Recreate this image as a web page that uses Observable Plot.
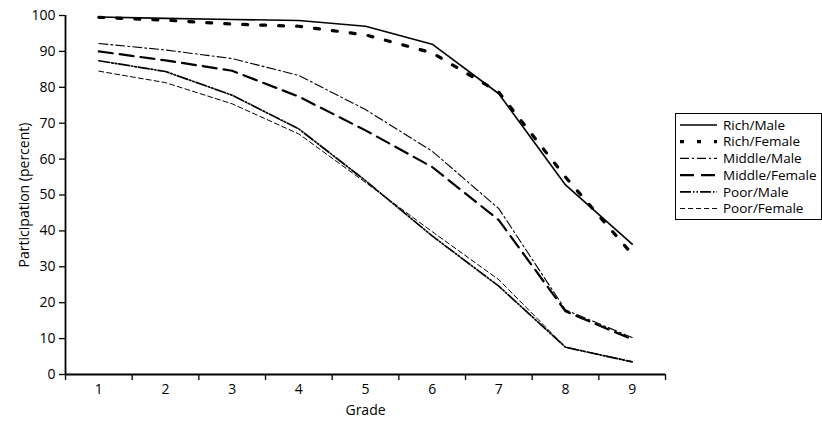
<!DOCTYPE html>
<html><head><meta charset="utf-8">
<script src="https://cdn.jsdelivr.net/npm/d3@7"></script>
<script src="https://cdn.jsdelivr.net/npm/@observablehq/plot@0.6"></script>
<style>body{margin:0;background:#fff}</style>
</head><body><div id="chart"></div>
<script>
const grades = [1, 2, 3, 4, 5, 6, 7, 8, 9];
const seriesNames = ["Rich/Male", "Rich/Female", "Middle/Male", "Middle/Female", "Poor/Male", "Poor/Female"];
const richMale     = [99.6, 99.2, 98.9, 98.6, 97.0, 92.0, 78.2, 52.8, 36.3];
const richFemale   = [99.5, 98.7, 97.6, 97.0, 94.6, 89.6, 78.6, 55.0, 33.5];
const middleMale   = [92.2, 90.4, 88.0, 83.3, 73.8, 62.2, 46.2, 18.0, 10.3];
const middleFemale = [90.0, 87.5, 84.6, 77.4, 68.0, 57.8, 43.0, 17.6, 9.8];
const poorMale     = [87.4, 84.4, 77.8, 68.4, 54.0, 38.6, 24.6, 7.6, 3.5];
const poorFemale   = [84.5, 81.3, 75.4, 67.0, 53.5, 39.8, 26.4, 7.6, 3.6];
const yTicks = [0, 10, 20, 30, 40, 50, 60, 70, 80, 90, 100];

const values = [richMale, richFemale, middleMale, middleFemale, poorMale, poorFemale];
const styles = [
  {strokeWidth: 1.6, strokeDasharray: null},
  {strokeWidth: 3.2, strokeDasharray: "5 13"},
  {strokeWidth: 1.1, strokeDasharray: "9 3 2 3"},
  {strokeWidth: 2.2, strokeDasharray: "14 7"},
  {strokeWidth: 1.7, strokeDasharray: "11 2 1.5 2 1.5 2"},
  {strokeWidth: 1, strokeDasharray: "5 3"}
];
const data = seriesNames.map((s, i) => grades.map((g, j) => ({series: s, grade: g, value: values[i][j]})));

const font = "'Open Sans', sans-serif";
const lineMarks = data.map((d, i) => Plot.line(d, {x: "grade", y: "value", stroke: "black", strokeWidth: styles[i].strokeWidth, strokeDasharray: styles[i].strokeDasharray || undefined}));

const chart = Plot.plot({
  width: 822, height: 421,
  marginLeft: 65, marginRight: 157, marginTop: 15, marginBottom: 47,
  style: {fontFamily: font, fontSize: "14px", color: "black", background: "white"},
  x: {domain: [0.5, 9.5]},
  y: {domain: [0, 100]},
  marks: [
    Plot.axisY({ticks: yTicks, tickSize: 6, tickPadding: 4, label: "Participation (percent)", labelAnchor: "center", labelArrow: false, labelOffset: 46, strokeWidth: 1.3}),
    Plot.axisX({ticks: d3.range(0.5, 10, 1), tickSize: 6, tickFormat: () => "", label: null, strokeWidth: 1.3}),
    Plot.axisX({ticks: grades, tickSize: 0, tickPadding: 10, tickFormat: d => String(d), label: "Grade", labelAnchor: "center", labelArrow: false, labelOffset: 40}),
    Plot.ruleX([0.5], {y1: 0, y2: 100, strokeWidth: 1.8}),
    Plot.ruleY([0], {x1: 0.5, x2: 9.5, strokeWidth: 1.8}),
    ...lineMarks
  ]
});
document.getElementById("chart").appendChild(chart);

// legend
const svg = d3.select(chart);
const lg = svg.append("g").attr("font-family", font).attr("font-size", 13.5).attr("text-anchor", "start");
lg.append("rect").attr("x", 675.5).attr("y", 113.5).attr("width", 146).attr("height", 106)
  .attr("fill", "white").attr("stroke", "black").attr("stroke-width", 1);
const legendDash = [null, "4 13", "9 3 2 3", "14 7", "11 2 1.5 2 1.5 2", "5 3"];
seriesNames.forEach((s, i) => {
  const y = 125 + i * 16.7;
  lg.append("line").attr("x1", 680).attr("x2", 717).attr("y1", y).attr("y2", y)
    .attr("stroke", "black").attr("stroke-width", styles[i].strokeWidth)
    .attr("stroke-dasharray", legendDash[i]);
  lg.append("text").attr("x", 723).attr("y", y).attr("dy", "0.35em").attr("text-anchor", "start").text(s);
});
</script></body></html>
